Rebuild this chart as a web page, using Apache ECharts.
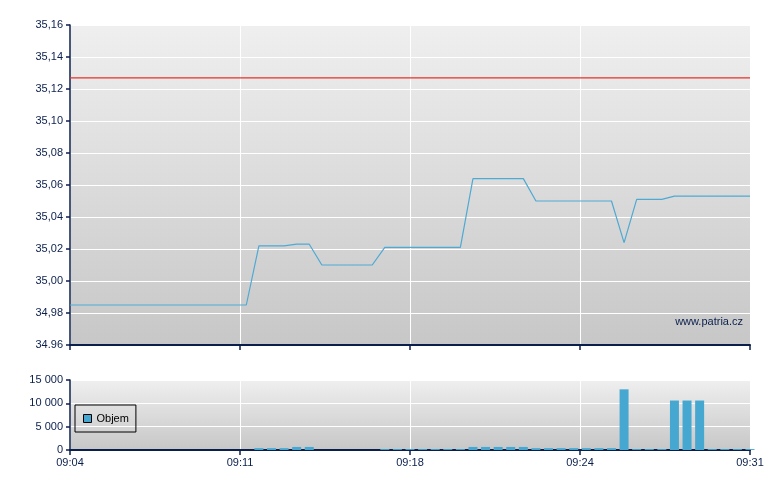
<!DOCTYPE html>
<html>
<head>
<meta charset="utf-8">
<script src="https://cdn.jsdelivr.net/npm/echarts@6/dist/echarts.min.js"></script>
<style>
  html, body { margin: 0; padding: 0; background: #ffffff; }
  #chart { width: 780px; height: 490px; }
</style>
</head>
<body>
<div id="chart"></div>
<script>
// Time axis: half-minute slots from 09:04 (slot 0) to 09:31 (slot 54)
const xTickLabels = ['09:04', '09:11', '09:18', '09:24', '09:31'];
const priceTickLabels = ['34.96', '34,98', '35,00', '35,02', '35,04', '35,06', '35,08', '35,10', '35,12', '35,14', '35,16'];
const volumeTickLabels = ['0', '5 000', '10 000', '15 000'];

// Price per half-minute slot
const prices = [
  34.985, 34.985, 34.985, 34.985, 34.985, 34.985, 34.985, 34.985, 34.985, 34.985,
  34.985, 34.985, 34.985, 34.985, 34.985, 35.022, 35.022, 35.022, 35.023, 35.023,
  35.010, 35.010, 35.010, 35.010, 35.010, 35.021, 35.021, 35.021, 35.021, 35.021,
  35.021, 35.021, 35.064, 35.064, 35.064, 35.064, 35.064, 35.050, 35.050, 35.050,
  35.050, 35.050, 35.050, 35.050, 35.024, 35.051, 35.051, 35.051, 35.053, 35.053,
  35.053, 35.053, 35.053, 35.053, 35.053
];

// Volume per half-minute slot
const volumes = [
  0, 0, 0, 0, 0, 0, 0, 0, 0, 0,
  0, 0, 0, 0, 0, 400, 400, 400, 650, 650,
  0, 0, 0, 0, 0, 200, 200, 200, 200, 200,
  200, 200, 650, 650, 650, 650, 650, 400, 400, 400,
  400, 400, 400, 400, 13000, 200, 200, 200, 10600, 10600,
  10600, 200, 200, 200, 200
];

const previousClose = 35.127;

const navy = '#0b1f4d';
const font = 'Liberation Sans, Arial, sans-serif';
const bgGrad = {
  type: 'linear', x: 0, y: 0, x2: 0, y2: 1,
  colorStops: [{ offset: 0, color: '#efefef' }, { offset: 1, color: '#c7c7c7' }]
};

const priceData = prices.map((v, i) => [i, v]);
const closeData = [[0, previousClose], [prices.length - 1, previousClose]];
const volumeData = volumes.map((v, i) => [i, v]).filter(d => d[1] > 0);

function xAxisDef(gridIndex, showLabels) {
  return {
    type: 'value', gridIndex: gridIndex, min: 0, max: 54, interval: 13.5,
    axisLine: { show: true, lineStyle: { color: navy, width: 2 } },
    axisTick: { show: true, length: 5, lineStyle: { color: navy, width: 1.5 } },
    axisLabel: {
      show: showLabels, color: navy, fontFamily: font, fontSize: 11, margin: 7,
      formatter: v => xTickLabels[Math.round(v / 13.5)]
    },
    splitLine: { show: true, lineStyle: { color: '#ffffff', width: 1 } }
  };
}

const chart = echarts.init(document.getElementById('chart'), null, { renderer: 'canvas' });
chart.setOption({
  animation: false,
  backgroundColor: '#ffffff',
  grid: [
    { left: 70, top: 25, width: 680, height: 320, show: true, backgroundColor: bgGrad, borderWidth: 0 },
    { left: 70, top: 380, width: 680, height: 70, show: true, backgroundColor: bgGrad, borderWidth: 0 }
  ],
  xAxis: [xAxisDef(0, false), xAxisDef(1, true)],
  yAxis: [
    {
      type: 'value', gridIndex: 0, min: 34.96, max: 35.16, interval: 0.02,
      axisLine: { show: true, lineStyle: { color: navy, width: 1.5 } },
      axisTick: { show: true, length: 4, lineStyle: { color: navy, width: 1.5 } },
      axisLabel: {
        color: navy, fontFamily: font, fontSize: 11, margin: 7,
        formatter: v => priceTickLabels[Math.round((v - 34.96) / 0.02)]
      },
      splitLine: { show: true, lineStyle: { color: '#ffffff', width: 1 } }
    },
    {
      type: 'value', gridIndex: 1, min: 0, max: 15000, interval: 5000,
      axisLine: { show: true, lineStyle: { color: navy, width: 1.5 } },
      axisTick: { show: true, length: 4, lineStyle: { color: navy, width: 1.5 } },
      axisLabel: {
        color: navy, fontFamily: font, fontSize: 11, margin: 7,
        formatter: v => volumeTickLabels[Math.round(v / 5000)]
      },
      splitLine: { show: true, lineStyle: { color: '#ffffff', width: 1 } }
    }
  ],
  legend: {
    data: [{ name: 'Objem', icon: 'rect' }],
    left: 75, top: 405,
    padding: [8, 7, 8, 8],
    itemWidth: 8, itemHeight: 8, itemGap: 5,
    borderColor: '#000000', borderWidth: 1,
    backgroundColor: 'transparent',
    itemStyle: { borderColor: '#000000', borderWidth: 1 },
    textStyle: { color: '#000000', fontFamily: font, fontSize: 11 }
  },
  graphic: [{
    type: 'text', right: 37, top: 316,
    style: { text: 'www.patria.cz', fill: navy, font: '11px ' + font }
  }],
  series: [
    {
      name: 'Předchozí', type: 'line', xAxisIndex: 0, yAxisIndex: 0,
      data: closeData, symbol: 'none', showSymbol: false, silent: true,
      lineStyle: { color: '#e8302c', width: 1.3 },
      itemStyle: { color: '#e8302c' }
    },
    {
      name: 'Cena', type: 'line', xAxisIndex: 0, yAxisIndex: 0,
      data: priceData, symbol: 'none', showSymbol: false,
      lineStyle: { color: '#4ea9d3', width: 1.2 },
      itemStyle: { color: '#4ea9d3' }
    },
    {
      name: 'Objem', type: 'bar', xAxisIndex: 1, yAxisIndex: 1,
      data: volumeData, barWidth: 9,
      itemStyle: { color: '#46a8d1' }
    }
  ]
});
</script>
</body>
</html>
